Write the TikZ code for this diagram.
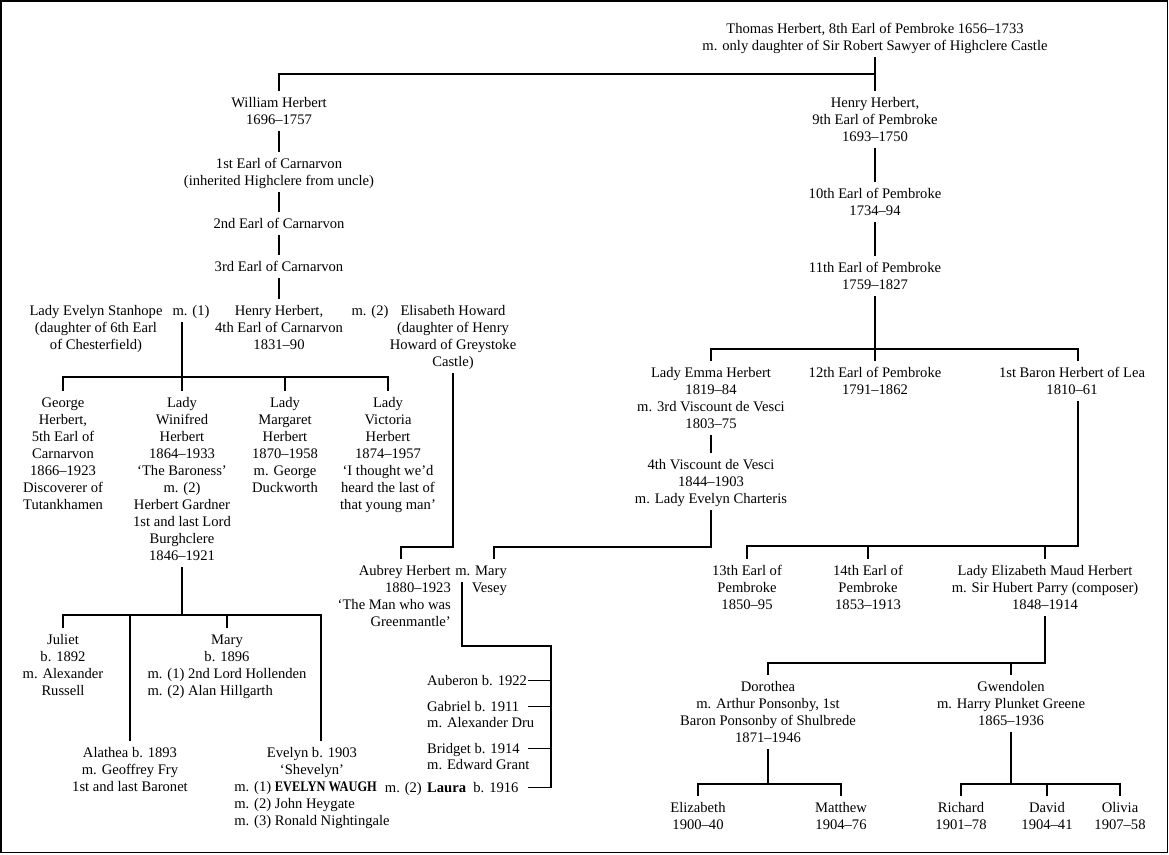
\documentclass[tikz,border=0pt]{standalone}
\usepackage{fontspec}
\usepackage{graphicx}
\setmainfont{Liberation Serif}
\usetikzlibrary{calc}
\newcommand\myfont{\fontsize{14.6}{17}\selectfont}
\newcommand\Cc[1]{\rule{0pt}{14.9pt}\begin{tabular}[t]{@{}c@{}}#1\end{tabular}}
\newcommand\Rr[1]{\rule{0pt}{14.9pt}\begin{tabular}[t]{@{}r@{}}#1\end{tabular}}
\newcommand\Ll[1]{\rule{0pt}{14.9pt}\begin{tabular}[t]{@{}l@{}}#1\end{tabular}}
\begin{document}
\begin{tikzpicture}[x=1pt,y=-1pt,
  lbl/.style={anchor=north, yshift=11.1pt, inner xsep=1pt, inner ysep=1.5pt, font=\myfont},
  lblr/.style={lbl, anchor=north east},
  lbll/.style={lbl, anchor=north west},
  conn/.style={line width=1.2pt},
  frame/.style={line width=1.5pt}]
\useasboundingbox (0,0) rectangle (1169,854);
\draw[frame] (1,1) rectangle (1167.5,852.5);

% ---- left branch
\node[lbl] (thomas) at (875,28) {\Cc{Thomas Herbert, 8th Earl of Pembroke 1656–1733\\m. only daughter of Sir Robert Sawyer of Highclere Castle}};
\node[lbl] (william) at (279,102) {\Cc{William Herbert\\1696–1757}};
\node[lbl] (carn1) at (279,163) {\Cc{1st Earl of Carnarvon\\(inherited Highclere from uncle)}};
\node[lbl] (carn2) at (279,223) {\Cc{2nd Earl of Carnarvon}};
\node[lbl] (carn3) at (279,266) {\Cc{3rd Earl of Carnarvon}};
\node[lbl] (henry4) at (279,310) {\Cc{Henry Herbert,\\4th Earl of Carnarvon\\1831–90}};
\node[lbl] (stanhope) at (96,310) {\Cc{Lady Evelyn Stanhope\\(daughter of 6th Earl\\of Chesterfield)}};
\node[lbl] (m1) at (191,310) {\Cc{m. (1)}};
\node[lbl] (m2) at (370,310) {\Cc{m. (2)}};
\node[lbl] (elisabeth) at (453,310) {\Cc{Elisabeth Howard\\(daughter of Henry\\Howard of Greystoke\\Castle)}};
\node[lbl] (george) at (63,402) {\Cc{George\\Herbert,\\5th Earl of\\Carnarvon\\1866–1923\\Discoverer of\\Tutankhamen}};
\node[lbl] (winifred) at (182,402) {\Cc{Lady\\Winifred\\Herbert\\1864–1933\\‘The Baroness’\\m. (2)\\Herbert Gardner\\1st and last Lord\\Burghclere\\1846–1921}};
\node[lbl] (margaret) at (285,402) {\Cc{Lady\\Margaret\\Herbert\\1870–1958\\m. George\\Duckworth}};
\node[lbl] (victoria) at (388,402) {\Cc{Lady\\Victoria\\Herbert\\1874–1957\\‘I thought we’d\\heard the last of\\that young man’}};
\node[lblr] (aubrey) at (452,570) {\Rr{Aubrey Herbert\\1880–1923\\‘The Man who was\\Greenmantle’}};
\node[lblr] (maryv) at (508,570) {\Rr{m. Mary\\Vesey}};
\node[lbl] (juliet) at (63,639) {\Cc{Juliet\\b. 1892\\m. Alexander\\Russell}};
\node[lbl] (mary) at (227,639) {\Ll{\multicolumn{1}{@{}c@{}}{Mary}\\\multicolumn{1}{@{}c@{}}{b. 1896}\\m. (1) 2nd Lord Hollenden\\m. (2) Alan Hillgarth}};
\node[lbl] (alathea) at (130,752) {\Cc{Alathea b. 1893\\m. Geoffrey Fry\\1st and last Baronet}};
\node[lbl] (evelyn) at (312,752) {\Ll{\multicolumn{1}{@{}c@{}}{Evelyn b. 1903}\\\multicolumn{1}{@{}c@{}}{‘Shevelyn’}\\m. (1) \scalebox{0.85}[1]{\textbf{EVELYN WAUGH}}\\m. (2) John Heygate\\m. (3) Ronald Nightingale}};
\node[lblr] (m2b) at (423,787) {\Rr{m. (2)}};
\node[lbll] (auberon) at (426,680) {\Ll{Auberon b. 1922}};
\node[lbll] (gabriel) at (426,706) {\Ll{Gabriel b. 1911}};
\node[lbll] (gabrielm) at (426,722) {\Ll{m. Alexander Dru}};
\node[lbll] (bridget) at (426,748) {\Ll{Bridget b. 1914}};
\node[lbll] (bridgetm) at (426,764) {\Ll{m. Edward Grant}};
\node[lbll] (laura) at (426,787) {\Ll{\textbf{Laura}\ \ b. 1916}};

% ---- right branch
\node[lbl] (henry9) at (875,102) {\Cc{Henry Herbert,\\9th Earl of Pembroke\\1693–1750}};
\node[lbl] (pem10) at (875,193) {\Cc{10th Earl of Pembroke\\1734–94}};
\node[lbl] (pem11) at (875,267) {\Cc{11th Earl of Pembroke\\1759–1827}};
\node[lbl] (emma) at (711,372) {\Cc{Lady Emma Herbert\\1819–84\\m. 3rd Viscount de Vesci\\1803–75}};
\node[lbl] (pem12) at (875,372) {\Cc{12th Earl of Pembroke\\1791–1862}};
\node[lbl] (lea) at (1072,372) {\Cc{1st Baron Herbert of Lea\\1810–61}};
\node[lbl] (vesci4) at (711,464) {\Cc{4th Viscount de Vesci\\1844–1903\\m. Lady Evelyn Charteris}};
\node[lbl] (pem13) at (747,570) {\Cc{13th Earl of\\Pembroke\\1850–95}};
\node[lbl] (pem14) at (868,570) {\Cc{14th Earl of\\Pembroke\\1853–1913}};
\node[lbl] (elizm) at (1045,570) {\Cc{Lady Elizabeth Maud Herbert\\m. Sir Hubert Parry (composer)\\1848–1914}};
\node[lbl] (dorothea) at (768,686) {\Cc{Dorothea\\m. Arthur Ponsonby, 1st\\Baron Ponsonby of Shulbrede\\1871–1946}};
\node[lbl] (gwendolen) at (1011,686) {\Cc{Gwendolen\\m. Harry Plunket Greene\\1865–1936}};
\node[lbl] (elizabeth) at (698,807) {\Cc{Elizabeth\\1900–40}};
\node[lbl] (matthew) at (841,807) {\Cc{Matthew\\1904–76}};
\node[lbl] (richard) at (961,807) {\Cc{Richard\\1901–78}};
\node[lbl] (david) at (1047,807) {\Cc{David\\1904–41}};
\node[lbl] (olivia) at (1120,807) {\Cc{Olivia\\1907–58}};

% ---- connectors
\coordinate (b0) at (0,74);
\draw[conn] (thomas.south) -- (henry9.north);
\draw[conn] (thomas.south |- b0) -- (william.north |- b0) -- (william.north);
\draw[conn] (william.south) -- (carn1.north);
\draw[conn] (carn1.south) -- (carn2.north);
\draw[conn] (carn2.south) -- (carn3.north);
\draw[conn] (carn3.south) -- (henry4.north);

\coordinate (b1) at (0,377);
\draw[conn] (winifred.north |- m1.south) -- (winifred.north);
\draw[conn] (george.north) -- (george.north |- b1) -- (victoria.north |- b1) -- (victoria.north);
\draw[conn] (margaret.north |- b1) -- (margaret.north);

\coordinate (ja) at (401,547);
\draw[conn] (elisabeth.south) |- (ja) -- (ja |- aubrey.north);
\coordinate (jm) at (494,547);
\draw[conn] (vesci4.south) |- (jm) -- (jm |- maryv.north);

\coordinate (mv) at (462,582);
\coordinate (spx) at (551,646);
\coordinate (tx) at (528,0);
\draw[conn] (mv) |- (spx) -- (spx |- laura.west);
\foreach \c in {auberon,gabriel,bridget,laura} \draw[conn] (\c.west -| tx) -- (\c.west -| spx);

\coordinate (b2) at (0,615);
\coordinate (xal) at (130,0);
\coordinate (xev) at (321,0);
\draw[conn] (winifred.south) -- (winifred.south |- b2);
\draw[conn] (juliet.north) -- (juliet.north |- b2) -- (xev |- b2) -- (xev |- evelyn.north);
\draw[conn] (xal |- b2) -- (xal |- alathea.north);
\draw[conn] (mary.north |- b2) -- (mary.north);

\draw[conn] (henry9.south) -- (pem10.north);
\draw[conn] (pem10.south) -- (pem11.north);
\draw[conn] (pem11.south) -- (pem12.north);
\coordinate (b3) at (0,349);
\coordinate (xlea) at (1078,0);
\draw[conn] (emma.north) -- (emma.north |- b3) -- (xlea |- b3) -- (xlea |- lea.north);
\draw[conn] (emma.south) -- (vesci4.north);
\coordinate (b4) at (0,546);
\draw[conn] (xlea |- lea.south) -- (xlea |- b4) -- (pem13.north |- b4) -- (pem13.north);
\draw[conn] (pem14.north |- b4) -- (pem14.north);
\draw[conn] (elizm.north |- b4) -- (elizm.north);
\coordinate (b5) at (0,663);
\draw[conn] (elizm.south) -- (elizm.south |- b5) -- (dorothea.north |- b5) -- (dorothea.north);
\draw[conn] (gwendolen.north |- b5) -- (gwendolen.north);
\coordinate (b6) at (0,784);
\draw[conn] (dorothea.south) -- (dorothea.south |- b6);
\draw[conn] (elizabeth.north) -- (elizabeth.north |- b6) -- (matthew.north |- b6) -- (matthew.north);
\draw[conn] (gwendolen.south) -- (gwendolen.south |- b6);
\draw[conn] (richard.north) -- (richard.north |- b6) -- (olivia.north |- b6) -- (olivia.north);
\draw[conn] (david.north |- b6) -- (david.north);
\end{tikzpicture}
\end{document}
